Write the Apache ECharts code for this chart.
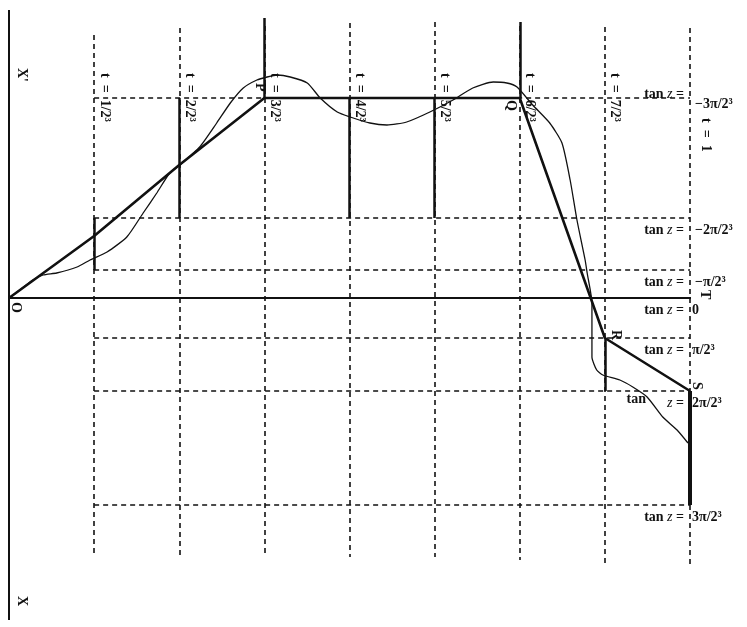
<!DOCTYPE html>
<html>
<head>
    <meta charset="utf-8">
    <title>tan z</title>
    <style>html,body{margin:0;background:#fff;}</style>
</head>
<body>
    <div id="main" style="width:747px;height:627px;"></div>
    <script src="https://cdn.jsdelivr.net/npm/echarts@6/dist/echarts.min.js"></script>
    <script type="text/javascript">
        // t = k/2^3 verticals
        var tSteps = [1/8, 2/8, 3/8, 4/8, 5/8, 6/8, 7/8, 1];
        var tNames = ['1/2³', '2/2³', '3/2³', '4/2³', '5/2³', '6/2³', '7/2³'];
        // ends of the dashed verticals (picture units)
        var vTop = [2.63, 2.70, 2.72, 2.75, 2.76, 2.72, 2.71, 2.70];
        var vBottom = [-2.55, -2.59, -2.59, -2.59, -2.59, -2.62, -2.65, -2.69];
        // horizontal levels, tan z = k*pi/2^3
        var levels = [2.00, 0.80, 0.28, 0, -0.40, -0.93, -2.07];
        var levelNames = ['−3π/2³', '−2π/2³', '−π/2³', '0', 'π/2³', '2π/2³', '3π/2³'];
        // thick broken line O-P-Q-R-S
        var brokenT = [0, 1/8, 2/8, 3/8, 4/8, 5/8, 6/8, 7/8, 1];
        var brokenY = [0, 0.62, 1.33, 2.00, 2.00, 2.00, 2.00, -0.40, -0.93];
        // thin curve
        var curveT = [0, 0.016, 0.035, 0.050, 0.070, 0.100, 0.119, 0.144, 0.173, 0.197, 0.217, 0.236, 0.251, 0.280, 0.305, 0.325, 0.344, 0.364, 0.379, 0.394, 0.413, 0.438, 0.457, 0.482, 0.501, 0.530, 0.555, 0.584, 0.618, 0.652, 0.681, 0.711, 0.731, 0.746, 0.769, 0.794, 0.812, 0.824, 0.834, 0.846, 0.849, 0.856, 0.856, 0.856, 0.863, 0.872, 0.897, 0.916, 0.937, 0.960, 0.981, 0.997];
        var curveY = [0, 0.08, 0.18, 0.23, 0.25, 0.31, 0.38, 0.46, 0.61, 0.85, 1.05, 1.25, 1.33, 1.51, 1.75, 1.95, 2.10, 2.18, 2.21, 2.23, 2.21, 2.15, 2.00, 1.86, 1.81, 1.75, 1.73, 1.76, 1.86, 1.98, 2.10, 2.16, 2.15, 2.11, 1.93, 1.75, 1.55, 1.18, 0.78, 0.38, 0.25, -0.05, -0.25, -0.59, -0.72, -0.77, -0.82, -0.89, -0.99, -1.19, -1.32, -1.45];
        // solid uprights [t, from, to]
        var uprights = [[1/8, 0.80, 0.28], [2/8, 2.00, 0.80], [3/8, 2.80, 2.00], [4/8, 2.00, 0.80], [5/8, 2.00, 0.80], [6/8, 2.76, 2.00], [7/8, -0.40, -0.93], [1, -0.93, -2.07]];

        var ink = '#111';
        var serif = 'Liberation Serif';
        var myChart = echarts.init(document.getElementById('main'));

        var dashData = [];
        tSteps.forEach(function (t, i) {
            dashData.push({coords: [[t, vTop[i]], [t, vBottom[i]]]});
        });
        levels.forEach(function (y) {
            if (y !== 0) dashData.push({coords: [[1/8, y], [1, y]]});
        });

        var uprightData = uprights.map(function (u) {
            return {coords: [[u[0], u[1]], [u[0], u[2]]], lineStyle: {width: u[0] === 1 ? 4 : 2.5}};
        });

        var option = {
            backgroundColor: '#fff',
            animation: false,
            grid: {left: 9, right: 57, top: 8, bottom: 0},
            xAxis: {type: 'value', min: 0, max: 1, show: false},
            yAxis: {type: 'value', min: -3.29, max: 2.90, show: false},
            series: [
                {
                    type: 'lines', coordinateSystem: 'cartesian2d', silent: true,
                    lineStyle: {color: ink, width: 1.6, type: [5, 4], opacity: 1},
                    data: dashData
                },
                {
                    // X'OX and OT axes
                    type: 'lines', coordinateSystem: 'cartesian2d', silent: true,
                    lineStyle: {color: ink, width: 2, opacity: 1},
                    data: [{coords: [[0, 2.88], [0, -3.22]]}, {coords: [[0, 0], [1.015, 0]]}]
                },
                {
                    type: 'lines', coordinateSystem: 'cartesian2d', silent: true,
                    lineStyle: {color: ink, width: 2.5, opacity: 1},
                    data: uprightData
                },
                {
                    type: 'line', showSymbol: false, silent: true,
                    lineStyle: {color: ink, width: 2.6},
                    data: brokenT.map(function (t, i) { return [t, brokenY[i]]; })
                },
                {
                    type: 'line', showSymbol: false, silent: true, smooth: 0.2,
                    lineStyle: {color: ink, width: 1.3},
                    data: curveT.map(function (t, i) { return [t, curveY[i]]; })
                }
            ]
        };
        myChart.setOption(option);

        function px(t, y) { return myChart.convertToPixel({gridIndex: 0}, [t, y]); }

        // text turned a quarter turn clockwise
        function sideText(t, y, dx, dy, text, size) {
            var p = px(t, y);
            return {
                type: 'text', x: p[0] + dx, y: p[1] + dy, rotation: -Math.PI / 2,
                style: {text: text, fill: ink, font: 'bold ' + (size || 14) + 'px "' + serif + '"', align: 'left', verticalAlign: 'bottom'}
            };
        }
        function flatText(x, y, text, align) {
            return {
                type: 'text', x: x, y: y,
                style: {
                    text: text, fill: ink, align: align, verticalAlign: 'middle',
                    font: '14px "' + serif + '"',
                    rich: {
                        r: {font: 'bold 14px "' + serif + '"', fill: ink},
                        i: {font: 'italic 14px "' + serif + '"', fill: ink}
                    }
                }
            };
        }

        var g = [];
        tNames.forEach(function (n, i) {
            g.push(sideText(tSteps[i], 2.25, 3, 0, 't  =  ' + n));
        });
        g.push(sideText(1, 1.80, 9, 0, 't  =  1'));
        g.push(sideText(0, 2.30, 6, 0, "X'"));
        g.push(sideText(0, -2.98, 6, 0, 'X'));
        g.push(sideText(0, -0.04, 0, 0, 'O'));
        g.push(sideText(1, 0.08, 8, 0, 'T'));
        g.push(sideText(3/8, 2.15, -12, 0, 'P'));
        g.push(sideText(6/8, 1.98, -16, 0, 'Q'));
        g.push(sideText(7/8, -0.32, 4, 0, 'R'));
        g.push(sideText(1, -0.84, 0, 0, 'S'));

        var xt = px(1, 0)[0];
        levels.forEach(function (y, i) {
            var py = px(1, y)[1];
            var yEq = i === 0 ? py - 4 : py + 12;
            var yVal = i === 0 ? py + 6 : py + 12;
            if (i === 5) {
                g.push(flatText(xt - 44, py + 8, '{r|tan}', 'right'));
                g.push(flatText(xt - 6, yEq, '{i|z} {r|=}', 'right'));
            } else {
                g.push(flatText(xt - 6, yEq, '{r|tan} {i|z} {r|=}', 'right'));
            }
            g.push(flatText(xt + (i < 3 ? 5 : 2), yVal, '{r|' + levelNames[i] + '}', 'left'));
        });

        myChart.setOption({graphic: g});
    </script>
</body>
</html>
